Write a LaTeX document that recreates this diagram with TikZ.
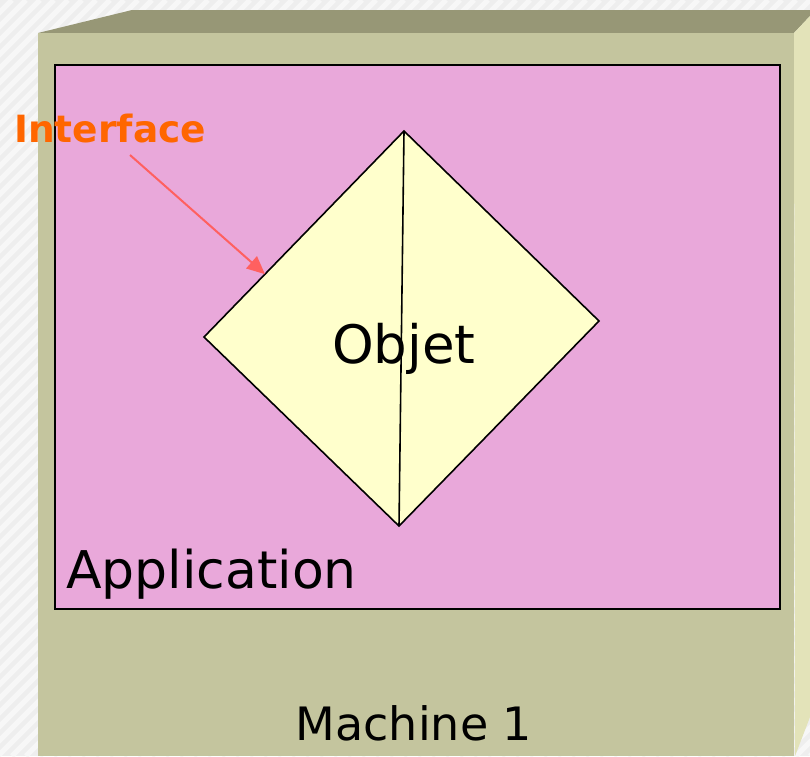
\documentclass[tikz,border=0pt]{standalone}
\usepackage{fontspec}
\setmainfont{DejaVu Sans}
\usetikzlibrary{arrows.meta,calc}
\definecolor{bgc}{HTML}{EEEEEE}
\definecolor{stripec}{HTML}{F7F7F7}
\definecolor{frontc}{HTML}{C4C59E}
\definecolor{topc}{HTML}{979776}
\definecolor{sidec}{HTML}{E3E3B9}
\definecolor{appc}{HTML}{E9A8DA}
\definecolor{objc}{HTML}{FFFFCC}
\definecolor{ifcc}{HTML}{FF6600}
\definecolor{arrc}{HTML}{FF6060}
\tikzset{
  lbl/.style={inner sep=0pt, text=black},
  edgeline/.style={draw=black, line width=1.6pt, line join=miter},
}
\begin{document}
\begin{tikzpicture}[x=1pt,y=-1pt]
\useasboundingbox (0,0) rectangle (810,756);
% background
\fill[bgc] (0,0) rectangle (810,756);
\begin{scope}
\clip (0,0) rectangle (810,756);
\foreach \i in {-800,-786,...,820} {
  \draw[stripec, line width=5pt] (\i,756) -- ++(756,-756);
}
\end{scope}
% machine box
\fill[topc] (38,33) -- (132,10) -- (810,10) -- (810,16) -- (794,33) -- cycle;
\fill[sidec] (794,33) -- (810,16) -- (810,717) -- (795,756) -- cycle;
\fill[frontc] (38,33) rectangle (794,756);
% application
\node[draw=black, fill=appc, line width=2pt, minimum width=725pt, minimum height=544pt, anchor=north west, inner sep=0pt] (app) at (54,64) {};
% object diamond
\coordinate (dtop) at (404,131);
\coordinate (dright) at (599,321);
\coordinate (dbot) at (399,526);
\coordinate (dleft) at (204,337);
\filldraw[fill=objc, edgeline] (dtop) -- (dright) -- (dbot) -- (dleft) -- cycle;
\draw[black, line width=1.6pt] (dtop) -- (dbot);
\node[lbl, anchor=base, font=\fontsize{53}{60}\selectfont] (obj) at (404,363) {Objet};
\node[lbl, anchor=base west, font=\fontsize{52}{60}\selectfont] (applbl) at (66,588) {Application};
\node[lbl, anchor=base, font=\fontsize{46}{54}\selectfont] (mach) at (414,740) {Machine 1};
\node[lbl, anchor=base west, text=ifcc, font=\fontsize{37.5}{44}\selectfont\bfseries] (ifc) at (14,142) {Interface};
\coordinate (arrstart) at (130,155);
\coordinate (tip) at ($(dleft)!0.305!(dtop)$);
\draw[arrc, line width=2pt, -{Triangle[length=18pt,width=16pt]}] (arrstart) -- (tip);
\end{tikzpicture}
\end{document}
